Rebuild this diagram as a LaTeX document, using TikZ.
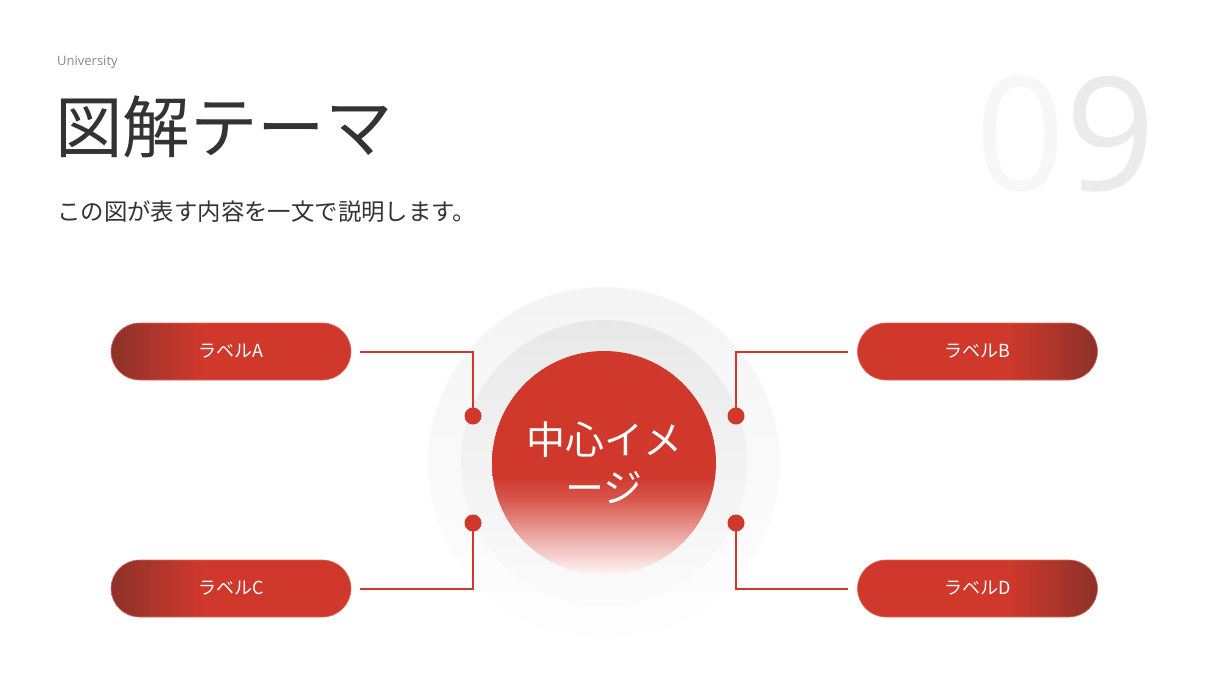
\documentclass[tikz,border=0pt]{standalone}
\usepackage{fontspec}
\setmainfont{Open Sans}
\newfontfamily\jpfont{Noto Sans CJK JP}
\usetikzlibrary{calc}

\definecolor{mainred}{HTML}{D0382C}
\definecolor{darkred}{HTML}{8C3229}
\definecolor{titlegray}{HTML}{333333}
\definecolor{unigray}{HTML}{888888}
\definecolor{numlight}{HTML}{F7F7F7}
\definecolor{numgray}{HTML}{EBEBEB}

\pgfdeclarehorizontalshading{pillleft}{100bp}{color(0bp)=(darkred); color(25bp)=(darkred); color(44bp)=(mainred); color(100bp)=(mainred)}
\pgfdeclarehorizontalshading{pillright}{100bp}{color(0bp)=(mainred); color(56bp)=(mainred); color(75bp)=(darkred); color(100bp)=(darkred)}
\pgfdeclareverticalshading{corefade}{100bp}{color(0bp)=(white); color(25bp)=(mainred!4); color(33bp)=(mainred!40); color(42bp)=(mainred!85); color(47bp)=(mainred); color(100bp)=(mainred)}
\pgfdeclareverticalshading{halofade}{100bp}{color(0bp)=(gray!1); color(25bp)=(gray!1); color(60bp)=(gray!6); color(75bp)=(gray!9); color(100bp)=(gray!9)}
\pgfdeclareverticalshading{ringfade}{100bp}{color(0bp)=(gray!3); color(25bp)=(gray!3); color(50bp)=(gray!10); color(75bp)=(gray!18); color(100bp)=(gray!18)}

\begin{document}
\begin{tikzpicture}[x=1pt, y=-1pt,
    pill/.style={rounded corners=28.5pt, minimum width=240pt, minimum height=57pt, inner sep=0pt,
        text=white, font=\jpfont\fontsize{18}{18}\selectfont, draw=mainred!75, line width=0.6pt},
    link/.style={draw=mainred, line width=2pt},
    joint/.style={circle, fill=mainred, inner sep=0pt, minimum size=17pt}]

    \fill[white] (0,0) rectangle (1209,680);
    \useasboundingbox (0,0) rectangle (1209,680);

    % header
    \node[anchor=west, inner sep=0pt, text=unigray, font=\fontsize{13}{13}\selectfont] (uni) at (57,62) {University};
    \node[anchor=west, inner sep=0pt, text=titlegray, font=\jpfont\fontsize{67.5}{67.5}\selectfont] (title) at (55,127) {図解テーマ};
    \node[anchor=west, inner sep=0pt, text=titlegray, font=\jpfont\fontsize{23.4}{23.4}\selectfont] (lead) at (57,212) {この図が表す内容を一文で説明します。};
    \node[anchor=base west, inner sep=0pt, font=\fontsize{158}{158}\selectfont] (num) at (975,190) {\textcolor{numlight}{0}\textcolor{numgray}{9}};

    % halo and ring
    \shade[shading=halofade] (604,463) circle (176);
    \shade[shading=ringfade] (604,463) circle (143);

    \node[circle, minimum size=224pt, inner sep=0pt, shade, shading=corefade, text=white, align=center,
        font=\jpfont\fontsize{39}{48}\selectfont] (core) at (604,463) {中心イメ\\ージ};

    % labels
    \node[pill, shade, shading=pillleft] (labA) at (231,351.5) {ラベルA};
    \node[pill, shade, shading=pillright] (labB) at (977.5,351.5) {ラベルB};
    \node[pill, shade, shading=pillleft] (labC) at (231,588.5) {ラベルC};
    \node[pill, shade, shading=pillright] (labD) at (977.5,588.5) {ラベルD};

    \node[joint] (dotA) at (473,416) {};
    \node[joint] (dotB) at (736,416) {};
    \node[joint] (dotC) at (473,523) {};
    \node[joint] (dotD) at (736,523) {};

    \draw[link, shorten <=9pt] (labA.east) -| (dotA.center);
    \draw[link, shorten <=9pt] (labB.west) -| (dotB.center);
    \draw[link, shorten <=9pt] (labC.east) -| (dotC.center);
    \draw[link, shorten <=9pt] (labD.west) -| (dotD.center);
\end{tikzpicture}
\end{document}
